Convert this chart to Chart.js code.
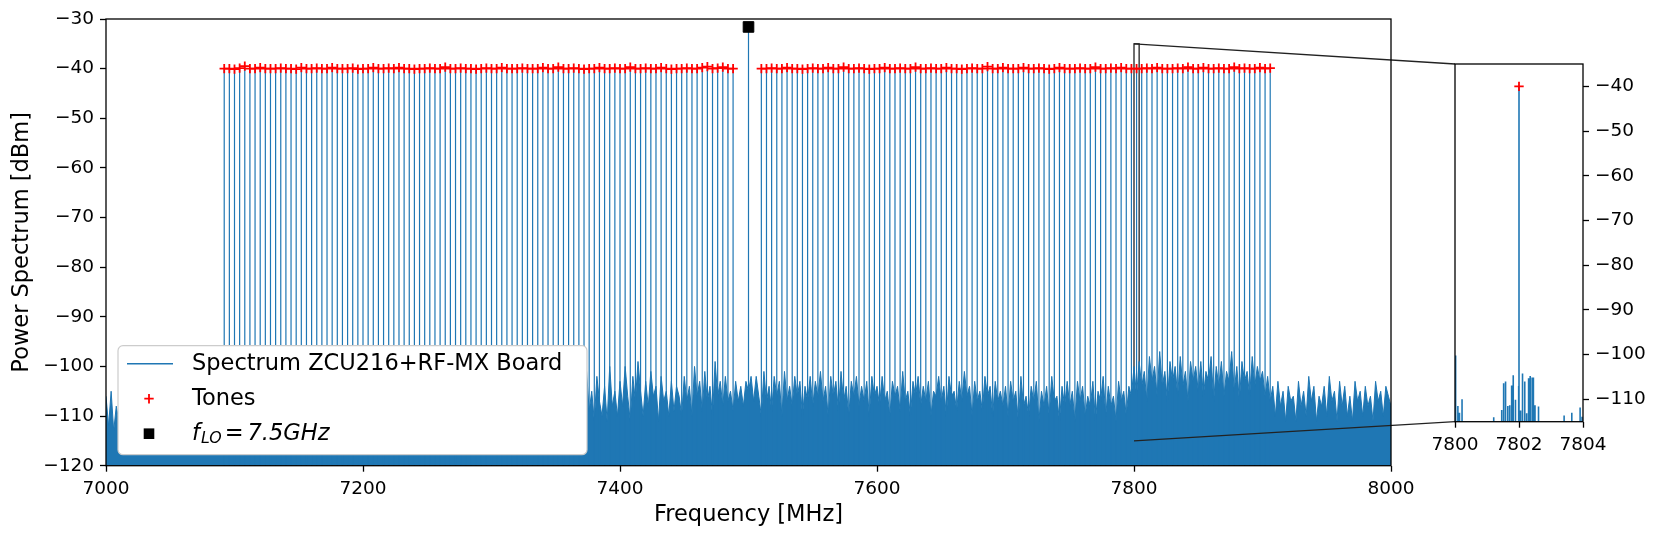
<!DOCTYPE html>
<html>
<head>
<meta charset="utf-8">
<script src="https://cdn.jsdelivr.net/npm/chart.js@4.4.0/dist/chart.umd.min.js"></script>
<style>
  html, body { margin: 0; padding: 0; background: #fff; }
  #wrap { position: relative; width: 1661px; height: 538px; overflow: hidden; }
  #main { position: absolute; left: 0; top: 0; }
  #inset { position: absolute; left: 1420px; top: 40px; }
</style>
</head>
<body>
<div id="wrap">
  <canvas id="main" width="1661" height="538"></canvas>
  <canvas id="inset" width="241" height="440"></canvas>
</div>
<script>
// tone frequencies [MHz] and their levels [dBm]
const toneFreq = [
  7092, 7096, 7100, 7104, 7108, 7112, 7116, 7120, 7124, 7128,
  7132, 7136, 7140, 7144, 7148, 7152, 7156, 7160, 7164, 7168,
  7172, 7176, 7180, 7184, 7188, 7192, 7196, 7200, 7204, 7208,
  7212, 7216, 7220, 7224, 7228, 7232, 7236, 7240, 7244, 7248,
  7252, 7256, 7260, 7264, 7268, 7272, 7276, 7280, 7284, 7288,
  7292, 7296, 7300, 7304, 7308, 7312, 7316, 7320, 7324, 7328,
  7332, 7336, 7340, 7344, 7348, 7352, 7356, 7360, 7364, 7368,
  7372, 7376, 7380, 7384, 7388, 7392, 7396, 7400, 7404, 7408,
  7412, 7416, 7420, 7424, 7428, 7432, 7436, 7440, 7444, 7448,
  7452, 7456, 7460, 7464, 7468, 7472, 7476, 7480, 7484, 7488,
  7510, 7514, 7518, 7522, 7526, 7530, 7534, 7538, 7542, 7546,
  7550, 7554, 7558, 7562, 7566, 7570, 7574, 7578, 7582, 7586,
  7590, 7594, 7598, 7602, 7606, 7610, 7614, 7618, 7622, 7626,
  7630, 7634, 7638, 7642, 7646, 7650, 7654, 7658, 7662, 7666,
  7670, 7674, 7678, 7682, 7686, 7690, 7694, 7698, 7702, 7706,
  7710, 7714, 7718, 7722, 7726, 7730, 7734, 7738, 7742, 7746,
  7750, 7754, 7758, 7762, 7766, 7770, 7774, 7778, 7782, 7786,
  7790, 7794, 7798, 7802, 7806, 7810, 7814, 7818, 7822, 7826,
  7830, 7834, 7838, 7842, 7846, 7850, 7854, 7858, 7862, 7866,
  7870, 7874, 7878, 7882, 7886, 7890, 7894, 7898, 7902, 7906
];
const toneLevel = [
  -40, -40, -40.1, -39.9, -39.5, -40, -40, -39.8, -40, -40,
  -40, -39.9, -40, -40, -40.1, -39.8, -40, -40, -39.9, -40,
  -40, -39.8, -40, -40, -40, -39.9, -40.1, -40, -40, -39.8,
  -40, -40, -39.9, -40, -39.8, -40, -40, -40.1, -40, -40,
  -39.9, -40, -40, -39.7, -40, -40, -39.9, -40, -40, -40.1,
  -40, -39.9, -40, -40, -39.8, -40, -40, -40, -39.9, -40,
  -40, -40, -39.8, -40, -40, -39.7, -40, -40, -39.9, -40,
  -40.1, -40, -40, -39.8, -40, -40, -39.9, -40, -40, -39.7,
  -40, -40, -39.9, -40, -40, -39.8, -40, -40.1, -40, -40,
  -39.9, -40, -40, -39.8, -39.6, -40, -39.9, -39.7, -40, -40,
  -40, -40, -39.9, -40, -40, -39.8, -40, -40, -40.1, -40,
  -39.9, -40, -40, -39.8, -40, -40, -39.7, -40, -40, -39.9,
  -40, -40.1, -40, -40, -39.8, -40, -40, -39.9, -40, -40,
  -39.7, -40, -40, -39.9, -40, -40, -39.8, -40, -40, -40.1,
  -40, -39.9, -40, -40, -39.6, -40, -40, -39.8, -40, -40,
  -40, -39.8, -40, -40, -39.9, -40, -40.1, -40, -39.8, -40,
  -40, -40, -39.9, -40, -40, -39.7, -40, -40, -39.9, -40,
  -39.8, -40, -40, -40, -40, -39.9, -40, -39.8, -40, -40,
  -40, -39.9, -40, -39.7, -40, -40, -39.8, -40, -40, -39.9,
  -40, -40, -39.7, -40, -39.9, -40, -40, -39.8, -40, -39.9
];

// local oscillator
const loFreq = [7500];
const loLevel = [-31.6];

// noise floor read every 2 MHz from 7000 to 8000 MHz
const noiseStartMHz = 7000;
const noiseStepMHz = 2;
const noiseLevel = [
  -106,-112,-105,-113,-108,-111,-109,-112,-110,-113,-108,-112,-110,-114,-109,-111,-112,-108,-113,-110,-112,-109,-113,-111,-110,
  -112,-108,-113,-110,-111,-109,-114,-110,-112,-107,-113,-111,-109,-112,-110,-113,-108,-111,-112,-109,-113,-110,-108,-112,-111,
  -109,-113,-110,-107,-112,-111,-108,-113,-110,-112,-109,-111,-106,-112,-110,-113,-108,-111,-109,-112,-110,-107,-113,-111,-109,
  -112,-108,-111,-110,-113,-107,-112,-109,-111,-113,-108,-110,-112,-106,-111,-109,-113,-110,-108,-112,-111,-109,-112,-107,-110,
  -111,-109,-113,-108,-110,-112,-107,-111,-109,-113,-110,-106,-112,-109,-111,-108,-113,-110,-112,-107,-111,-109,-112,-110,-108,
  -112,-109,-107,-111,-113,-108,-110,-112,-106,-111,-109,-112,-108,-110,-113,-107,-111,-109,-112,-110,-106,-111,-108,-112,-110,
  -109,-112,-107,-110,-111,-105,-112,-108,-110,-113,-106,-111,-109,-107,-112,-110,-105,-111,-108,-112,-106,-110,-109,-111,-107,
  -111,-106,-109,-112,-104,-110,-107,-111,-103,-109,-106,-110,-101,-109,-105,-111,-102,-107,-110,-104,-111,-100,-108,-105,-110,
  -103,-108,-100,-106,-111,-102,-107,-99,-105,-110,-103,-108,-101,-106,-104,-111,-102,-107,-105,-110,-103,-109,-104,-106,-110,
  -102,-107,-104,-110,-100,-106,-103,-109,-101,-107,-104,-110,-99,-106,-103,-108,-102,-107,-105,-109,-103,-107,-104,-108,-103,
  -105,-102,-107,-102,-106,-110,-101,-107,-104,-109,-102,-106,-103,-110,-101,-107,-104,-108,-102,-106,-103,-110,-104,-107,-102,
  -108,-103,-106,-101,-107,-104,-110,-102,-106,-103,-109,-101,-107,-104,-110,-103,-106,-102,-108,-104,-107,-103,-110,-102,-106,
  -104,-108,-102,-107,-105,-110,-103,-106,-104,-109,-101,-107,-105,-110,-103,-106,-102,-108,-104,-107,-103,-110,-105,-106,-102,
  -107,-104,-110,-102,-106,-105,-109,-103,-107,-101,-106,-104,-110,-103,-107,-105,-109,-102,-106,-104,-110,-103,-107,-105,-108,
  -104,-110,-103,-107,-105,-111,-102,-108,-106,-110,-104,-107,-103,-111,-105,-108,-104,-110,-102,-107,-106,-111,-104,-108,-103,
  -108,-105,-111,-103,-107,-104,-110,-106,-108,-103,-111,-105,-107,-102,-110,-104,-108,-106,-111,-103,-107,-105,-110,-104,-106,
  -100,-106,-99,-104,-101,-107,-98,-103,-100,-106,-97,-104,-101,-107,-99,-103,-100,-106,-98,-104,-101,-107,-99,-103,-100,
  -105,-99,-106,-101,-103,-98,-107,-100,-104,-99,-106,-101,-103,-97,-105,-100,-107,-99,-103,-101,-106,-98,-104,-100,-103,
  -101,-106,-102,-107,-104,-110,-103,-108,-105,-111,-104,-107,-106,-111,-103,-108,-105,-110,-102,-107,-104,-111,-106,-108,-104,
  -110,-102,-107,-105,-111,-103,-108,-104,-110,-106,-111,-103,-107,-105,-110,-104,-108,-106,-111,-103,-107,-105,-110,-104,-106,
  -108
];

// zoomed view 7800-7804 MHz: residual spurs around the 7802 MHz tone
const insetFreq = [7800.02, 7800.09, 7800.14, 7800.22, 7801.21, 7801.46, 7801.52, 7801.58, 7801.65, 7801.71,
  7801.77, 7801.82, 7801.89, 7801.99, 7802.05, 7802.11, 7802.18, 7802.24, 7802.30, 7802.35,
  7802.41, 7802.45, 7802.50, 7802.61, 7803.41, 7803.65, 7803.91, 7803.97];
const insetLevel = [-100.2, -111.5, -113.0, -110.0, -114.0, -112.4, -106.4, -106.0, -111.5, -111.3,
  -106.9, -104.6, -110.1, -107.0, -112.5, -104.2, -106.0, -113.1, -105.3, -104.8,
  -105.1, -105.1, -111.3, -111.6, -113.6, -113.0, -111.8, -113.9];

const xTicks = [7000, 7200, 7400, 7600, 7800, 8000];
const yTicks = [-120, -110, -100, -90, -80, -70, -60, -50, -40, -30];
const insetXTicks = [7800, 7802, 7804];
const insetYTicks = [-110, -100, -90, -80, -70, -60, -50, -40];
const zoomX = [7800, 7804];
const zoomY = [-115, -35];

const BLUE = '#1f77b4';
const FLOOR = -140;
const TICK_FONT = { family: "'DejaVu Sans', sans-serif", size: 18.5 };
const LABEL_FONT = { family: "'DejaVu Sans', sans-serif", size: 22.5 };

Chart.defaults.font.family = "'DejaVu Sans', sans-serif";
Chart.defaults.color = '#000';

const fmt = v => (v < 0 ? '\u2212' + Math.abs(v) : String(v));

function stems(xs, ys) {
  const pts = [];
  xs.forEach((x, i) => {
    pts.push({ x: x, y: FLOOR }, { x: x, y: ys[i] }, { x: x, y: FLOOR });
  });
  return pts;
}
const pairs = (xs, ys) => xs.map((x, i) => ({ x: x, y: ys[i] }));
const noisePts = noiseLevel.map((v, i) => ({ x: noiseStartMHz + i * noiseStepMHz, y: v }));

function axis(ticksList, extra) {
  return Object.assign({
    type: 'linear',
    afterBuildTicks: s => { s.ticks = ticksList.map(v => ({ value: v })); },
    ticks: { font: TICK_FONT, color: '#000', padding: 6, autoSkip: false, maxRotation: 0, callback: fmt },
    grid: { drawOnChartArea: false, drawTicks: true, tickLength: 6, tickColor: '#000', tickWidth: 1.3 },
    border: { display: false }
  }, extra);
}

function drawFrame(chart) {
  const { ctx, chartArea: a } = chart;
  ctx.save();
  ctx.strokeStyle = '#000';
  ctx.lineWidth = 1.3;
  ctx.strokeRect(a.left, a.top, a.right - a.left, a.bottom - a.top);
  ctx.restore();
}

const frame = { id: 'frame', afterDraw: drawFrame };

// ---- inset ----
const insetCanvas = document.getElementById('inset');
const insetChart = new Chart(insetCanvas, {
  type: 'scatter',
  data: {
    datasets: [
      { data: pairs(toneFreq, toneLevel), pointStyle: 'cross', pointRadius: 4.7, borderColor: 'red', borderWidth: 1.8 },
      { data: stems(insetFreq, insetLevel).concat(stems(toneFreq, toneLevel)), showLine: true, pointRadius: 0,
        borderColor: BLUE, borderWidth: 1.6 }
    ]
  },
  options: {
    responsive: false, animation: false, events: [],
    layout: { padding: { left: 35, top: 24, right: 0, bottom: 0 } },
    plugins: { legend: { display: false }, tooltip: { enabled: false } },
    scales: {
      x: axis(insetXTicks, { min: zoomX[0], max: zoomX[1],
        afterFit: s => { s.height = 58.3; s.paddingLeft = 0; s.paddingRight = 0; } }),
      y: axis(insetYTicks, { position: 'right', min: zoomY[0], max: zoomY[1],
        afterFit: s => { s.width = 78; } })
    }
  },
  plugins: [frame]
});

// ---- main ----
const mainDecor = {
  id: 'mainDecor',
  beforeDatasetsDraw(chart) {
    const { ctx, scales: { x, y } } = chart;
    const l = x.getPixelForValue(zoomX[0]), r = x.getPixelForValue(zoomX[1]);
    const t = y.getPixelForValue(zoomY[1]), b = y.getPixelForValue(zoomY[0]);
    ctx.save();
    ctx.strokeStyle = '#222';
    ctx.lineWidth = 1.3;
    ctx.strokeRect(l, t, r - l, b - t);
    ctx.restore();
  },
  afterDatasetsDraw(chart) {
    const { ctx, chartArea: a } = chart;
    const bx = a.left + 12, bw = 469, bh = 109, by = a.bottom - 11 - bh;
    ctx.save();
    ctx.beginPath();
    ctx.roundRect(bx, by, bw, bh, 5);
    ctx.fillStyle = '#fff';
    ctx.fill();
    ctx.strokeStyle = '#cccccc';
    ctx.lineWidth = 1.2;
    ctx.stroke();

    const tx = bx + 74, hx = bx + 31;
    const r1 = by + 18, r2 = by + 53, r3 = by + 88;
    ctx.strokeStyle = BLUE;
    ctx.lineWidth = 1.5;
    ctx.beginPath(); ctx.moveTo(bx + 9, r1); ctx.lineTo(bx + 55, r1); ctx.stroke();
    ctx.strokeStyle = 'red';
    ctx.lineWidth = 1.8;
    ctx.beginPath();
    ctx.moveTo(hx - 4.7, r2); ctx.lineTo(hx + 4.7, r2);
    ctx.moveTo(hx, r2 - 4.7); ctx.lineTo(hx, r2 + 4.7);
    ctx.stroke();
    ctx.fillStyle = '#000';
    ctx.fillRect(hx - 5.3, r3 - 5.3, 10.6, 10.6);

    ctx.textBaseline = 'middle';
    ctx.textAlign = 'left';
    ctx.font = "22.5px 'DejaVu Sans'";
    ctx.fillText('Spectrum ZCU216+RF-MX Board', tx, r1);
    ctx.fillText('Tones', tx, r2);
    // f_{LO} = 7.5GHz
    let cx = tx;
    ctx.font = "italic 22.5px 'DejaVu Sans'";
    ctx.fillText('f', cx, r3);
    cx += ctx.measureText('f').width + 1;
    ctx.font = "italic 15.8px 'DejaVu Sans'";
    ctx.fillText('LO', cx, r3 + 5);
    cx += ctx.measureText('LO').width + 3;
    ctx.font = "22.5px 'DejaVu Sans'";
    ctx.fillText('=', cx, r3);
    cx += ctx.measureText('=').width + 4;
    ctx.font = "italic 22.5px 'DejaVu Sans'";
    ctx.fillText('7.5GHz', cx, r3);
    ctx.restore();
  },
  afterDraw(chart) {
    const { ctx, scales: { x, y } } = chart;
    const ia = insetChart.chartArea;
    const ox = insetCanvas.offsetLeft, oy = insetCanvas.offsetTop;
    const l = x.getPixelForValue(zoomX[0]);
    const t = y.getPixelForValue(zoomY[1]), b = y.getPixelForValue(zoomY[0]);
    ctx.save();
    ctx.strokeStyle = '#222';
    ctx.lineWidth = 1.3;
    ctx.beginPath();
    ctx.moveTo(l, t); ctx.lineTo(ox + ia.left, oy + ia.top);
    ctx.moveTo(l, b); ctx.lineTo(ox + ia.left, oy + ia.bottom);
    ctx.stroke();
    ctx.restore();
  }
};

new Chart(document.getElementById('main'), {
  type: 'scatter',
  data: {
    datasets: [
      { label: 'f_LO', data: pairs(loFreq, loLevel), pointStyle: 'rect', pointRadius: 7.5,
        backgroundColor: '#000', borderColor: '#000', borderWidth: 1 },
      { label: 'Tones', data: pairs(toneFreq, toneLevel), pointStyle: 'cross', pointRadius: 4.7,
        borderColor: 'red', borderWidth: 1.8 },
      { label: 'Spectrum ZCU216+RF-MX Board', data: stems(toneFreq.concat(loFreq), toneLevel.concat(loLevel)),
        showLine: true, pointRadius: 0, borderColor: BLUE, borderWidth: 1.2 },
      { label: 'noise', data: noisePts, showLine: true, pointRadius: 0, borderColor: BLUE, borderWidth: 1,
        backgroundColor: BLUE, fill: 'start' }
    ]
  },
  options: {
    responsive: false, animation: false, events: [],
    layout: { padding: { left: 0, top: 19, right: 270, bottom: 0 } },
    plugins: { legend: { display: false }, tooltip: { enabled: false } },
    scales: {
      x: axis(xTicks, { min: 7000, max: 8000,
        title: { display: true, text: 'Frequency [MHz]', font: LABEL_FONT, color: '#000', padding: { top: 0, bottom: 9.5 } },
        afterFit: s => { s.height = 72.3; } }),
      y: axis(yTicks, { min: -120, max: -30,
        title: { display: true, text: 'Power Spectrum [dBm]', font: LABEL_FONT, color: '#000', padding: { top: 8.5, bottom: 0 } },
        afterFit: s => { s.width = 106; } })
    }
  },
  plugins: [mainDecor, frame]
});
</script>
</body>
</html>
